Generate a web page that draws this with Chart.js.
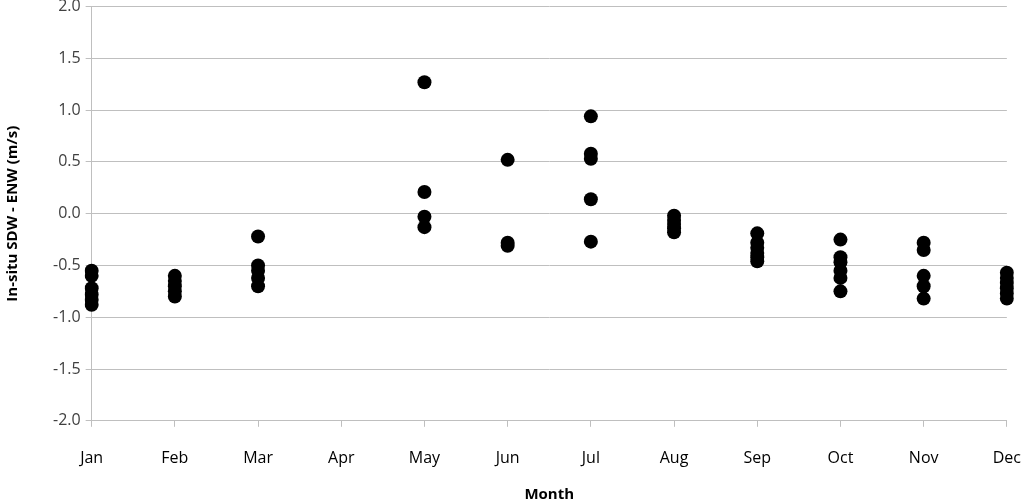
<!DOCTYPE html>
<html>
<head>
<meta charset="utf-8">
<script src="https://cdn.jsdelivr.net/npm/chart.js@4/dist/chart.umd.min.js"></script>
<style>
    html, body { margin: 0; padding: 0; background: #fff; overflow: hidden; }
    #chart { display: block; margin-top: -8px; }
</style>
</head>
<body>
<canvas id="chart" width="1043" height="512"></canvas>
<script>
const months = ['Jan', 'Feb', 'Mar', 'Apr', 'May', 'Jun', 'Jul', 'Aug', 'Sep', 'Oct', 'Nov', 'Dec'];

// differences per month (m/s)
const jan = [-0.55, -0.6, -0.72, -0.78, -0.83, -0.88];
const feb = [-0.6, -0.65, -0.7, -0.75, -0.8];
const mar = [-0.22, -0.5, -0.55, -0.62, -0.7];
const apr = [];
const may = [1.27, 0.21, -0.03, -0.13];
const jun = [0.52, -0.28, -0.31];
const jul = [0.94, 0.58, 0.53, 0.14, -0.27];
const aug = [-0.02, -0.06, -0.1, -0.14, -0.18];
const sep = [-0.19, -0.28, -0.33, -0.38, -0.42, -0.46];
const oct = [-0.25, -0.42, -0.47, -0.55, -0.62, -0.75];
const nov = [-0.28, -0.35, -0.6, -0.7, -0.82];
const dec = [-0.57, -0.62, -0.67, -0.72, -0.77, -0.82];

const yTicks = [-2.0, -1.5, -1.0, -0.5, 0.0, 0.5, 1.0, 1.5, 2.0];

let byMonth = [jan, feb, mar, apr, may, jun, jul, aug, sep, oct, nov, dec];
let points = [];
byMonth.forEach((values, i) => {
    for (let v of values) points.push({ x: months[i], y: v });
});

let axisGray = '#bfbfbf';
let textColor = '#404040';

new Chart(document.getElementById('chart').getContext('2d'), {
    type: 'line',
    data: {
        labels: months,
        datasets: [{
            data: points,
            showLine: false,
            pointRadius: 7,
            pointHoverRadius: 7,
            pointBackgroundColor: '#000',
            pointBorderColor: '#000',
            pointBorderWidth: 0
        }]
    },
    options: {
        responsive: false,
        animation: false,
        devicePixelRatio: 1,
        layout: { padding: { top: 0, right: 0, left: 4, bottom: 0 } },
        plugins: {
            legend: { display: false },
            tooltip: { enabled: false }
        },
        scales: {
            x: {
                type: 'category',
                offset: false,
                grid: { drawOnChartArea: false, color: axisGray, tickLength: 6 },
                border: { color: axisGray },
                ticks: {
                    color: '#000',
                    font: { family: 'Open Sans', size: 16 },
                    maxRotation: 0,
                    autoSkip: false,
                    padding: 22
                },
                title: {
                    display: true,
                    text: 'Month',
                    color: '#000',
                    font: { family: 'Open Sans', size: 15, weight: 'bold' },
                    padding: { top: -4, bottom: 0 }
                }
            },
            y: {
                min: -2,
                max: 2,
                afterBuildTicks: axis => { axis.ticks = yTicks.map(v => ({ value: v })); },
                grid: { color: axisGray, tickLength: 6 },
                border: { color: axisGray },
                ticks: {
                    color: textColor,
                    font: { family: 'Open Sans', size: 16 },
                    padding: 5,
                    callback: v => Number(v).toFixed(1)
                },
                title: {
                    display: true,
                    text: 'In-situ SDW - ENW (m/s)',
                    color: '#000',
                    font: { family: 'Open Sans', size: 15, weight: 'bold' },
                    padding: { top: 0, bottom: 26 }
                }
            }
        }
    }
});
</script>
</body>
</html>
